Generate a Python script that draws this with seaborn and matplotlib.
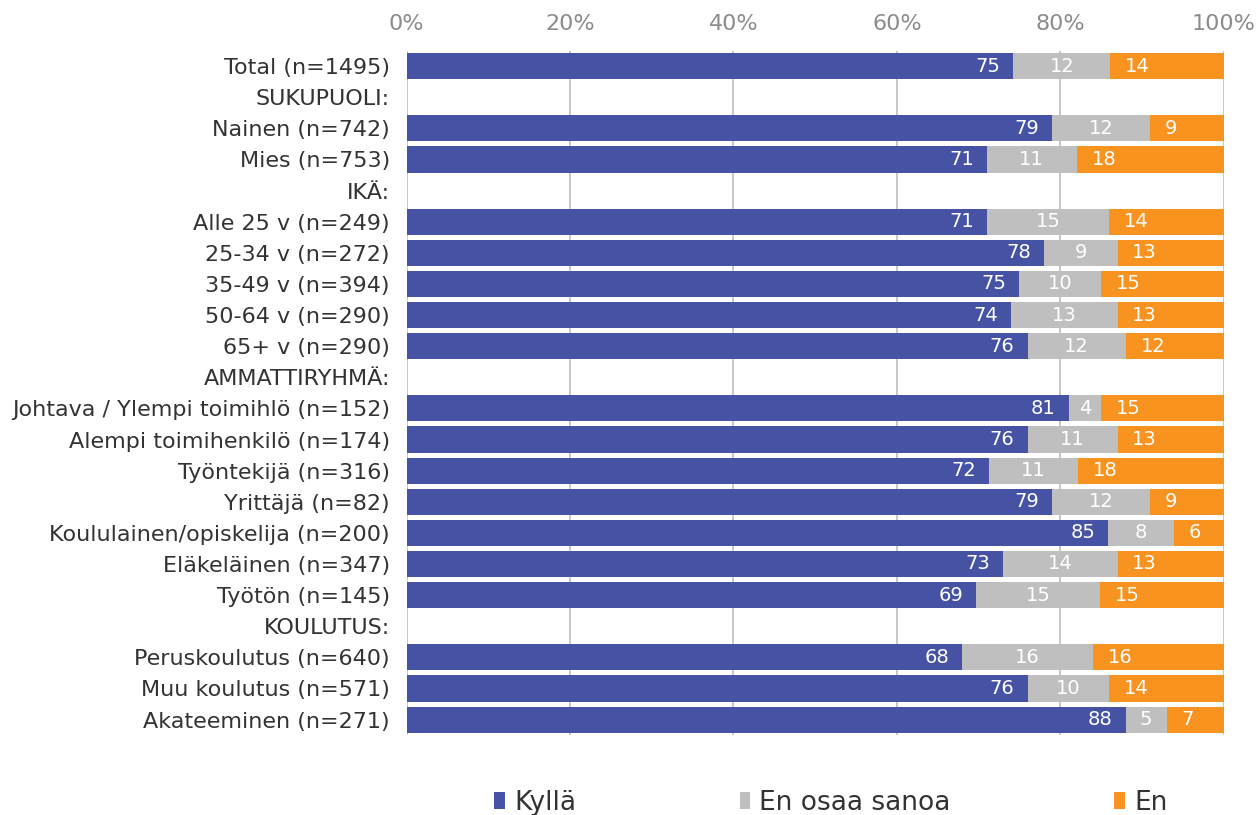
import numpy as np
import pandas as pd
import seaborn as sns
import matplotlib.pyplot as plt
from matplotlib.patches import Patch

categories = ["Total (n=1495)", "SUKUPUOLI:", "Nainen (n=742)", "Mies (n=753)", "IKÄ:",
              "Alle 25 v (n=249)", "25-34 v (n=272)", "35-49 v (n=394)", "50-64 v (n=290)",
              "65+ v (n=290)", "AMMATTIRYHMÄ:", "Johtava / Ylempi toimihlö (n=152)",
              "Alempi toimihenkilö (n=174)", "Työntekijä (n=316)", "Yrittäjä (n=82)",
              "Koululainen/opiskelija (n=200)", "Eläkeläinen (n=347)", "Työtön (n=145)",
              "KOULUTUS:", "Peruskoulutus (n=640)", "Muu koulutus (n=571)", "Akateeminen (n=271)"]
kylla = [75, None, 79, 71, None, 71, 78, 75, 74, 76, None, 81, 76, 72, 79, 85, 73, 69, None, 68, 76, 88]
eos = [12, None, 12, 11, None, 15, 9, 10, 13, 12, None, 4, 11, 11, 12, 8, 14, 15, None, 16, 10, 5]
en = [14, None, 9, 18, None, 14, 13, 15, 13, 12, None, 15, 13, 18, 9, 6, 13, 15, None, 16, 14, 7]
series = ["Kyllä", "En osaa sanoa", "En"]
colors = ["#4653A4", "#BFBFBF", "#F7931E"]

df = pd.DataFrame({"cat": categories, "Kyllä": kylla, "En osaa sanoa": eos, "En": en})
df = df.dropna().copy()
tot = df[series].sum(axis=1)
for s in series:
    df[s + "_p"] = df[s] / tot * 100
df["c1"] = df["Kyllä_p"]
df["c2"] = df["c1"] + df["En osaa sanoa_p"]
df["c3"] = df["c2"] + df["En_p"]

plt.rcParams["font.family"] = ["DejaVu Sans"]
fig = plt.figure(figsize=(12.59, 8.15), dpi=100)
ax = fig.add_axes([0.323, 0.098, 0.649, 0.84])

for col, c in zip(["c3", "c2", "c1"], colors[::-1]):
    sns.barplot(data=df, x=col, y="cat", order=categories, color=c, orient="h",
                width=0.84, saturation=1, ax=ax, zorder=2)

# value labels
pos = {c: i for i, c in enumerate(categories)}
for _, r in df.iterrows():
    y = pos[r["cat"]]
    ax.text(r["c1"] - 1.6, y, f"{int(r['Kyllä'])}", ha="right", va="center",
            color="white", fontsize=14, zorder=3)
    ax.text(r["c1"] + r["En osaa sanoa_p"] / 2, y, f"{int(r['En osaa sanoa'])}",
            ha="center", va="center", color="white", fontsize=14, zorder=3)
    ax.text(r["c2"] + 1.8, y, f"{int(r['En'])}", ha="left", va="center",
            color="white", fontsize=14, zorder=3)

ax.set_xlim(0, 100)
ax.set_ylim(len(categories) - 0.5, -0.5)
ax.set_xticks(range(0, 101, 20))
ax.set_xticklabels([f"{v}%" for v in range(0, 101, 20)])
ax.xaxis.tick_top()
ax.tick_params(axis="x", colors="#8C8C8C", labelsize=16, length=0, pad=12)
ax.tick_params(axis="y", labelsize=16, length=0, pad=12, labelcolor="#333333")
ax.set_xlabel("")
ax.set_ylabel("")
for sp in ax.spines.values():
    sp.set_visible(False)
ax.grid(axis="x", color="#BFBFBF", linewidth=1.2, zorder=0)
ax.set_axisbelow(True)

handles = [Patch(facecolor=c, label=s) for s, c in zip(series, colors)]
fig.legend(handles=handles, loc="lower center", bbox_to_anchor=(0.66, -0.03), ncol=3,
           frameon=False, fontsize=19, handlelength=0.4, handleheight=0.6,
           handletextpad=0.35, columnspacing=6.2, labelcolor="#333333")

fig.savefig("out.png", dpi=100)
